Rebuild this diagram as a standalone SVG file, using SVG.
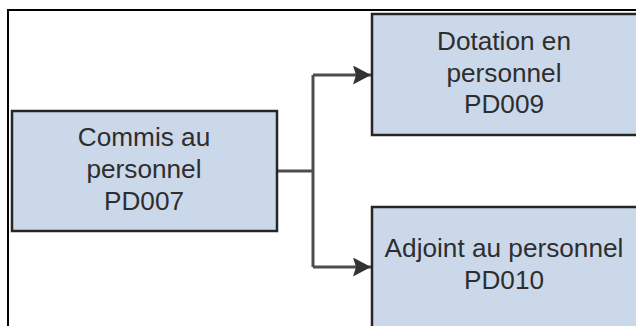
<svg xmlns="http://www.w3.org/2000/svg" width="636" height="326" viewBox="0 0 636 326">
  <style>
    .box { fill: #cbd8ea; stroke: #262626; stroke-width: 2.5; }
    .lbl { font-family: "Liberation Sans", Arial, sans-serif; font-size: 26.2px; fill: #2e2e2e; text-anchor: middle; }
    .conn { fill: none; stroke: #4d4d4d; stroke-width: 3; }
    .frame { fill: none; stroke: #000000; stroke-width: 2; }
  </style>
  <defs>
    <marker id="arrow" markerUnits="userSpaceOnUse" markerWidth="20" markerHeight="20" refX="18" refY="9.5" orient="auto">
      <path d="M0,0 L18,9.5 L0,19 L3,9.5 Z" fill="#333333"/>
    </marker>
  </defs>
  <rect width="636" height="326" fill="#ffffff"/>
  <path class="frame" d="M8,326 V10 H636"/>
  <g id="connectors">
    <path class="conn" d="M277,171 H313"/>
    <path class="conn" d="M313,75 V267"/>
    <path class="conn" d="M313,75 H371" marker-end="url(#arrow)"/>
    <path class="conn" d="M313,267 H371" marker-end="url(#arrow)"/>
  </g>
  <g id="node-pd007">
    <rect class="box" x="12" y="111" width="265" height="120"/>
    <text class="lbl" x="144" y="146">Commis au</text>
    <text class="lbl" x="144" y="178">personnel</text>
    <text class="lbl" x="144" y="210">PD007</text>
  </g>
  <g id="node-pd009">
    <rect class="box" x="372" y="14" width="270" height="121"/>
    <text class="lbl" x="504" y="50">Dotation en</text>
    <text class="lbl" x="504" y="82">personnel</text>
    <text class="lbl" x="504" y="113">PD009</text>
  </g>
  <g id="node-pd010">
    <rect class="box" x="372" y="207" width="270" height="130"/>
    <text class="lbl" x="504" y="257">Adjoint au personnel</text>
    <text class="lbl" x="504" y="289">PD010</text>
  </g>
</svg>
